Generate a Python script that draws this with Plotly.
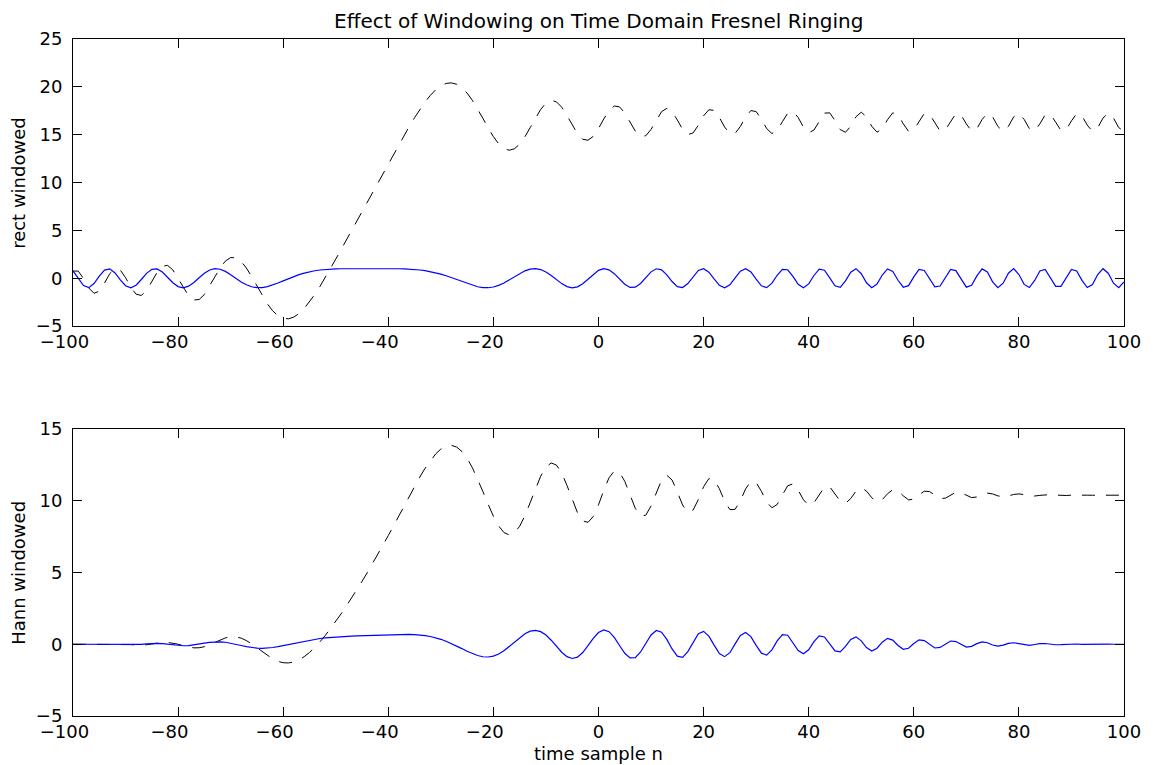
import plotly.graph_objects as go

# sample index n = -100 ... 100
n = list(range(-100, 101))

# rectangular-windowed chirp (blue, top)
rect_signal = [
    0.757, -0.019, -0.771, -0.988, -0.555, 0.223, 0.853, 0.974, 0.545, -0.172,
    -0.787, -0.999, -0.730, -0.134, 0.509, 0.927, 0.969, 0.644, 0.094, -0.474,
    -0.875, -0.999, -0.830, -0.440, 0.053, 0.518, 0.853, 0.996, 0.938, 0.710,
    0.368, -0.019, -0.389, -0.691, -0.896, -0.992, -0.983, -0.884, -0.717, -0.507,
    -0.277, -0.045, 0.174, 0.370, 0.536, 0.672, 0.779, 0.858, 0.915, 0.953,
    0.977, 0.990, 0.997, 0.999, 1.000, 1.000, 1.000,
    1.000, 1.000, 1.000, 0.998, 0.994, 0.986, 0.971, 0.947, 0.909, 0.856,
    0.783, 0.688, 0.568, 0.423, 0.254, 0.061, -0.146, -0.360, -0.568, -0.752,
    -0.897, -0.984, -0.994, -0.918, -0.750, -0.496, -0.175, 0.150, 0.490, 0.770,
    0.955, 0.995,
    0.904, 0.656, 0.286, -0.148, -0.564, -0.873, -0.999, -0.899, -0.578, -0.103, 0.408, 0.818,
    0.998, 0.878, 0.477, -0.089, -0.635, -0.963, -0.939, -0.550, 0.065, 0.664,
    0.985, 0.871, 0.352, -0.344, -0.879, -0.972, -0.554, 0.172, 0.810, 0.987,
    0.628, -0.069, -0.737, -1.000, -0.690, 0.025, 0.729, 0.999, 0.656, -0.100,
    -0.798, -0.982, -0.515, 0.309, 0.925, 0.882, 0.194, -0.643, -1.000, -0.593,
    0.285, 0.939, 0.831, 0.031, -0.798, -0.951, -0.285, 0.632, 0.996, 0.471,
    -0.476, -0.997, -0.613, 0.333, 0.973, 0.716, -0.212, -0.943, -0.775, 0.144,
    0.923, 0.802, -0.107, -0.913, -0.813, 0.101, 0.915, 0.798, -0.144, -0.939,
    -0.746, 0.242, 0.973, 0.652, -0.380, -0.997, -0.525, 0.520, 0.997, 0.385,
    -0.647, -0.973, -0.237, 0.758, 0.925, 0.082, -0.851, -0.854, 0.075, 0.923,
    0.763, -0.230, -0.972, -0.652, 0.380, 0.997, 0.525, -0.520, -0.997, -0.386,
]

# running sum of the rect-windowed chirp (black dashed, top)
rect_sum = [
    0.757, 0.738, -0.033, -1.021, -1.576, -1.353, -0.500, 0.474, 1.019, 0.847,
    0.060, -0.939, -1.669, -1.803, -1.294, -0.367, 0.602, 1.246, 1.340, 0.866,
    -0.009, -1.008, -1.838, -2.278, -2.225, -1.707, -0.854, 0.142, 1.080, 1.790,
    2.158, 2.139, 1.750, 1.059, 0.163, -0.829, -1.812, -2.696, -3.413, -3.920,
    -4.197, -4.242, -4.068, -3.698, -3.162, -2.490, -1.711, -0.853, 0.062, 1.015,
    1.992, 2.982, 3.979, 4.978, 5.978, 6.978, 7.978,
    8.978, 9.978, 10.978, 11.976, 12.970, 13.956, 14.927, 15.874, 16.783, 17.639,
    18.422, 19.110, 19.678, 20.101, 20.355, 20.416, 20.270, 19.910, 19.342, 18.590,
    17.693, 16.709, 15.715, 14.797, 14.047, 13.551, 13.376, 13.526, 14.016, 14.786,
    15.741, 16.736,
    17.640, 18.296, 18.582, 18.434, 17.870, 16.997, 15.998, 15.099, 14.521, 14.418, 14.826, 15.644,
    16.642, 17.520, 17.997, 17.908, 17.273, 16.310, 15.371, 14.821, 14.886, 15.550,
    16.535, 17.406, 17.758, 17.414, 16.535, 15.563, 15.009, 15.181, 15.991, 16.978,
    17.606, 17.537, 16.800, 15.800, 15.110, 15.135, 15.864, 16.863, 17.519, 17.419,
    16.621, 15.639, 15.124, 15.433, 16.358, 17.240, 17.434, 16.791, 15.791, 15.198,
    15.483, 16.422, 17.253, 17.284, 16.486, 15.535, 15.250, 15.882, 16.878, 17.349,
    16.873, 15.876, 15.263, 15.596, 16.569, 17.285, 17.073, 16.130, 15.355, 15.499,
    16.422, 17.224, 17.117, 16.204, 15.391, 15.492, 16.407, 17.205, 17.061, 16.122,
    15.376, 15.618, 16.591, 17.243, 16.863, 15.866, 15.341, 15.861, 16.858, 17.243,
    16.596, 15.623, 15.386, 16.144, 17.069, 17.151, 16.300, 15.446, 15.521, 16.444,
    17.207, 16.977, 16.005, 15.353, 15.733, 16.730, 17.255, 16.735, 15.738, 15.352,
]

# Hann-windowed chirp (blue, bottom)
hann_signal = [
    0.000, 0.000, -0.001, -0.002, -0.002, 0.001, 0.008, 0.012, 0.009, -0.003,
    -0.019, -0.030, -0.026, -0.006, 0.024, 0.051, 0.060, 0.045, 0.007, -0.041,
    -0.084, -0.105, -0.095, -0.055, 0.007, 0.076, 0.135, 0.169, 0.170, 0.137,
    0.076, -0.004, -0.090, -0.170, -0.232, -0.271, -0.282, -0.266, -0.226, -0.168,
    -0.096, -0.016, 0.067, 0.148, 0.223, 0.290, 0.349, 0.398, 0.439, 0.473,
    0.501, 0.523, 0.542, 0.560, 0.576, 0.592, 0.608, 0.624, 0.638, 0.655,
    0.669, 0.681, 0.691, 0.694, 0.691, 0.676, 0.649, 0.605, 0.541, 0.454,
    0.344, 0.210, 0.051, -0.121, -0.303, -0.485, -0.650, -0.785, -0.871, -0.890,
    -0.830, -0.685, -0.457, -0.163, 0.141, 0.463, 0.733, 0.916, 0.960, 0.877,
    0.640, 0.280, -0.146, -0.557, -0.865, -0.993, -0.896, -0.577, -0.103, 0.408,
    0.818,
    0.998, 0.877, 0.476, -0.089, -0.631, -0.954, -0.928, -0.541, 0.064, 0.648,
    0.956, 0.840, 0.338, -0.328, -0.831, -0.912, -0.515, 0.159, 0.740, 0.893,
    0.562, -0.061, -0.645, -0.865, -0.589, 0.021, 0.606, 0.818, 0.529, -0.079,
    -0.623, -0.754, -0.389, 0.229, 0.672, 0.629, 0.136, -0.440, -0.669, -0.388,
    0.182, 0.586, 0.506, 0.018, -0.461, -0.535, -0.156, 0.336, 0.514, 0.236,
    -0.231, -0.467, -0.278, 0.146, 0.410, 0.291, -0.083, -0.354, -0.279, 0.050,
    0.305, 0.253, -0.032, -0.262, -0.222, 0.026, 0.225, 0.185, -0.032, -0.194,
    -0.144, 0.044, 0.165, 0.103, -0.056, -0.135, -0.066, 0.060, 0.105, 0.037,
    -0.056, -0.076, -0.016, 0.047, 0.050, 0.004, -0.035, -0.030, 0.002, 0.023,
    0.015, -0.004, -0.012, -0.006, 0.002, 0.004, 0.001, -0.001, 0.000, 0.000,
]

# running sum of the Hann-windowed chirp (black dashed, bottom)
hann_sum = [
    0.000, 0.000, -0.001, -0.003, -0.005, -0.004, 0.004, 0.016, 0.025, 0.022,
    0.003, -0.027, -0.053, -0.059, -0.035, 0.016, 0.076, 0.121, 0.128, 0.087,
    0.003, -0.102, -0.197, -0.252, -0.245, -0.169, -0.034, 0.135, 0.305, 0.442,
    0.518, 0.514, 0.424, 0.254, 0.022, -0.249, -0.531, -0.797, -1.023, -1.191,
    -1.287, -1.303, -1.236, -1.088, -0.865, -0.575, -0.226, 0.172, 0.611, 1.084,
    1.585, 2.108, 2.650, 3.210, 3.786, 4.378, 4.986, 5.610, 6.248, 6.903,
    7.572, 8.253, 8.944, 9.638, 10.329, 11.005, 11.654, 12.259, 12.800, 13.254,
    13.598, 13.808, 13.859, 13.738, 13.435, 12.950, 12.300, 11.515, 10.644, 9.754,
    8.924, 8.239, 7.782, 7.619, 7.760, 8.223, 8.956, 9.872, 10.832, 11.709,
    12.349, 12.629, 12.483, 11.926, 11.061, 10.068, 9.172, 8.595, 8.492, 8.900,
    9.718,
    10.716, 11.593, 12.069, 11.980, 11.349, 10.395, 9.467, 8.926, 8.990, 9.638,
    10.594, 11.434, 11.772, 11.444, 10.613, 9.701, 9.186, 9.345, 10.085, 10.978,
    11.540, 11.479, 10.834, 9.969, 9.380, 9.401, 10.007, 10.825, 11.354, 11.275,
    10.652, 9.898, 9.509, 9.738, 10.410, 11.039, 11.175, 10.735, 10.066, 9.678,
    9.860, 10.446, 10.952, 10.970, 10.509, 9.974, 9.818, 10.154, 10.668, 10.904,
    10.673, 10.206, 9.928, 10.074, 10.484, 10.775, 10.692, 10.338, 10.059, 10.109,
    10.414, 10.667, 10.635, 10.373, 10.151, 10.177, 10.402, 10.587, 10.555, 10.361,
    10.217, 10.261, 10.426, 10.529, 10.473, 10.338, 10.272, 10.332, 10.437, 10.474,
    10.418, 10.342, 10.326, 10.373, 10.423, 10.427, 10.392, 10.362, 10.364, 10.387,
    10.402, 10.398, 10.386, 10.380, 10.382, 10.386, 10.387, 10.386, 10.386, 10.386,
]

x_ticks = [-100, -80, -60, -40, -20, 0, 20, 40, 60, 80, 100]
x_tick_labels = ["\u2212100", "\u221280", "\u221260", "\u221240", "\u221220",
                 "0", "20", "40", "60", "80", "100"]
top_y_ticks = [-5, 0, 5, 10, 15, 20, 25]
bottom_y_ticks = [-5, 0, 5, 10, 15]

# MATLAB centres the digits on the tick, so the minus sign hangs to the left;
# pad negative labels on the right with no-break spaces of about the same width
x_tick_text = [t + "\u00a0\u00a0\u00a0" if t.startswith("\u2212") else t for t in x_tick_labels]

FONT = "DejaVu Sans, Verdana, sans-serif"
BLUE = "#0000ff"
DASH = "13px,11px"

fig = go.Figure()
fig.add_trace(go.Scatter(x=n, y=rect_sum, mode="lines", xaxis="x", yaxis="y",
                         line=dict(color="black", width=1, dash=DASH), showlegend=False))
fig.add_trace(go.Scatter(x=n, y=rect_signal, mode="lines", xaxis="x", yaxis="y",
                         line=dict(color=BLUE, width=1.2), showlegend=False))
fig.add_trace(go.Scatter(x=n, y=hann_sum, mode="lines", xaxis="x2", yaxis="y2",
                         line=dict(color="black", width=1, dash=DASH), showlegend=False))
fig.add_trace(go.Scatter(x=n, y=hann_signal, mode="lines", xaxis="x2", yaxis="y2",
                         line=dict(color=BLUE, width=1.2), showlegend=False))

axis_common = dict(showgrid=False, zeroline=False, showline=True, linecolor="black",
                   linewidth=1, mirror="ticks", ticks="inside", ticklen=9,
                   tickcolor="black", tickwidth=1,
                   tickfont=dict(family=FONT, size=18, color="black"))

top_dom = [0.576, 1.0]
bot_dom = [0.0, 0.424]

fig.update_layout(
    width=1145, height=757,
    margin=dict(l=65, r=25, t=31, b=49),
    paper_bgcolor="white", plot_bgcolor="white",
    xaxis=dict(range=[-100, 100], tickvals=x_ticks, ticktext=x_tick_text, domain=[0, 1],
               anchor="y", ticklabelstandoff=-1, **axis_common),
    yaxis=dict(range=[-5, 25], tickvals=top_y_ticks, domain=top_dom, anchor="x",
               ticklabelstandoff=6, **axis_common),
    xaxis2=dict(range=[-100, 100], tickvals=x_ticks, ticktext=x_tick_text, domain=[0, 1],
                anchor="y2", ticklabelstandoff=-1, **axis_common),
    yaxis2=dict(range=[-5, 15], tickvals=bottom_y_ticks, domain=bot_dom, anchor="x2",
                ticklabelstandoff=6, **axis_common),
    annotations=[
        dict(text="Effect of Windowing on Time Domain Fresnel Ringing", xref="paper", yref="paper",
             x=0.5, y=1.0266, xanchor="center", yanchor="middle", showarrow=False,
             font=dict(family=FONT, size=20, color="black")),
        dict(text="rect windowed", xref="paper", yref="paper", x=-0.052, y=0.788,
             xanchor="center", yanchor="middle", textangle=-90, showarrow=False,
             font=dict(family=FONT, size=18, color="black")),
        dict(text="Hann windowed", xref="paper", yref="paper", x=-0.052, y=0.212,
             xanchor="center", yanchor="middle", textangle=-90, showarrow=False,
             font=dict(family=FONT, size=18, color="black")),
        dict(text="time sample n", xref="paper", yref="paper", x=0.5, y=-0.0547,
             xanchor="center", yanchor="middle", showarrow=False,
             font=dict(family=FONT, size=18, color="black")),
    ],
)

fig.write_html("out.html")
